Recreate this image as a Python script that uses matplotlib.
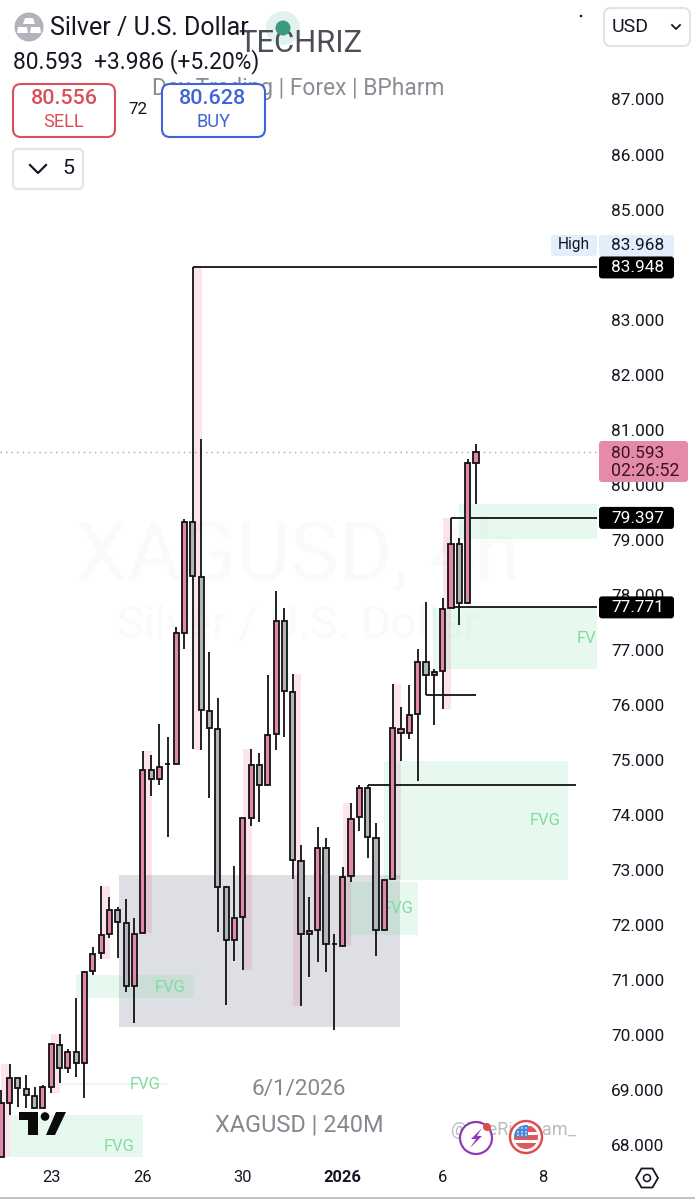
import matplotlib
matplotlib.use("Agg")
import matplotlib.pyplot as plt
from matplotlib.patches import Rectangle, FancyBboxPatch, Circle, Polygon

plt.rcParams['font.family'] = ['Roboto', 'DejaVu Sans']

opens  = [67.783,68.764,69.219,69.019,68.891,68.673,69.055,69.818,69.400,69.691,
          69.491,71.163,71.490,71.835,72.271,72.035,70.890,71.854,74.816,74.652,
          74.920,74.925,77.305,79.322,78.323,75.888,75.561,72.689,71.726,72.144,
          73.943,74.906,74.543,75.470,77.523,76.233,73.162,71.835,71.908,73.398,
          71.654,71.617,72.889,73.961,74.488,73.580,71.908,72.835,75.488,75.488,
          75.833,76.778,76.542,76.615,77.759,78.922,77.850,80.394]
highs  = [69.001,69.473,69.219,69.273,69.055,69.091,69.836,70.018,69.746,70.672,
          71.163,71.599,72.708,72.508,72.326,72.471,72.126,75.161,75.088,75.651,
          75.415,77.414,79.377,83.948,80.830,76.960,76.124,72.708,73.071,73.943,
          75.197,75.124,76.542,78.068,77.759,76.560,73.453,72.508,73.780,73.580,
          71.835,73.053,74.216,74.543,74.543,73.852,72.817,76.378,75.960,76.360,
          77.014,77.868,76.651,77.941,79.395,79.031,80.467,80.740]
lows   = [67.783,68.546,68.692,68.673,68.673,68.673,68.946,69.128,69.309,69.237,
          68.855,71.090,71.381,71.763,71.399,70.781,70.218,71.854,74.343,74.543,
          73.598,74.925,77.014,75.197,75.179,74.307,71.872,70.545,71.345,71.181,
          73.798,73.871,74.543,75.179,75.415,72.835,70.527,71.054,71.327,71.145,
          70.091,71.617,72.780,73.707,73.216,71.436,71.908,72.835,74.979,75.379,
          74.616,76.178,75.633,75.924,77.759,77.450,77.832,79.649]
closes = [68.764,69.219,69.037,68.910,68.673,69.055,69.836,69.400,69.691,69.491,
          71.145,71.472,71.817,72.271,72.053,70.890,71.835,74.816,74.652,74.870,
          74.925,77.305,79.322,78.341,75.906,75.579,72.689,71.726,72.126,73.943,
          74.906,74.543,75.452,77.523,76.251,73.180,71.835,71.890,73.398,71.654,
          71.660,72.871,73.925,74.488,73.598,71.908,72.817,75.579,75.561,75.815,
          76.778,76.542,76.596,77.741,78.922,77.850,80.394,80.593]

price_ticks = [68,69,70,71,72,73,74,75,76,77,78,79,80,81,82,83,84,85,86,87]
date_ticks = [6,17,29,41,53,65]
date_labels = ['23','26','30','2026','6','8']

# session highlights: start candle, high, low
session_idx = [0,6,12,17,23,29,35,41,47,53]
session_hi = [69.473,70.018,72.708,75.161,83.948,75.197,76.560,74.216,76.378,79.395]
session_lo = [67.783,68.946,71.381,71.854,75.179,71.181,70.527,71.617,72.835,75.924]

# fair value gaps: start, end, top, bottom
fvg_start = [1.06,7.3,9.0,41.6,46.0,51.8,55.0]
fvg_end = [17.02,20.0,23.15,50.0,68.04,71.5,71.5]
fvg_top = [68.546,69.128,71.090,72.780,74.979,77.759,79.649]
fvg_bot = [67.783,69.091,70.672,71.817,72.817,76.651,79.013]
fvg_text_x = [14.14,17.26,20.26,47.63,65.28,71.4]
fvg_text_y = [67.965,69.109,70.872,72.290,73.907,77.214]
fvg_text = ['FVG','FVG','FVG','FVG','FVG','FV']

# order block: start, end, top, bottom
block = (14.14,47.87,72.908,70.145)

# level lines: start candle, end, price
level_start = [23,54,54,44,51]
level_end = [71.5,71.5,71.5,69.0,57]
level_price = [83.948,79.397,77.771,74.54,76.18]
last_price = 80.593
tags = [83.948,79.397,77.771]

W, H = 695, 1199
fig = plt.figure(figsize=(W/100,H/100), dpi=100, facecolor='white')
FS = lambda p: p*0.72
LW = lambda p: p*0.72

back = fig.add_axes([0,0,1,1], zorder=0); back.set_xlim(0,W); back.set_ylim(H,0); back.axis('off')
ax = fig.add_axes([0,0,1,1], zorder=1); ax.patch.set_alpha(0)
top = fig.add_axes([0,0,1,1], zorder=5); top.set_xlim(0,W); top.set_ylim(H,0); top.axis('off')

ax.set_xlim(-0.144,83.289); ax.set_ylim(67.020,88.808)
for s in ax.spines.values(): s.set_visible(False)
ax.yaxis.tick_right()
ax.set_yticks(price_ticks); ax.set_yticklabels([f'{p:.3f}' for p in price_ticks])
ax.tick_params(axis='y', length=0, pad=-84*0.72, labelsize=FS(17.3), labelcolor='#131722')
ax.set_xticks(date_ticks); ax.set_xticklabels(date_labels)
ax.tick_params(axis='x', length=0, pad=-29*0.72, labelsize=FS(16.5), labelcolor='#131722')
for l in ax.get_xticklabels():
    if l.get_text()=='2026': l.set_fontweight('bold')

# background watermarks
back.text(298,558,'XAGUSD, 4h',fontsize=FS(82),color='#fafafb',ha='center',va='center')
back.text(298,625,'Silver / U.S. Dollar',fontsize=FS(45.5),color='#fafafb',ha='center',va='center')
back.text(299,1089,'6/1/2026',fontsize=FS(22.5),color='#85888f',ha='center',va='center')
back.text(299,1125,'XAGUSD | 240M',fontsize=FS(23.5),color='#85888f',ha='center',va='center')
back.text(513,1130,'@TheRizTeam_',fontsize=FS(18),color='#b9bbbf',ha='center',va='center')

ax.add_patch(Rectangle((block[0],block[3]),block[1]-block[0],block[2]-block[3],fc='#787b90',alpha=0.24,lw=0,zorder=1))
for s,e,t,b in zip(fvg_start,fvg_end,fvg_top,fvg_bot):
    ax.add_patch(Rectangle((s,b),e-s,t-b,fc='#55d88a',alpha=0.14,lw=0,zorder=1.2))
for i,hi,lo in zip(session_idx,session_hi,session_lo):
    ax.add_patch(Rectangle((i,lo),1.05,hi-lo,fc='#e91e63',alpha=0.12,lw=0,zorder=1.1))
for x,y,t in zip(fvg_text_x,fvg_text_y,fvg_text):
    ax.text(x,y,t,fontsize=FS(16.5),color='#7fdca0',ha='right' if t=='FV' else 'center',va='center',zorder=1.5)

ax.axhline(last_price,xmin=0,xmax=597/695,color='#d58fa8',lw=1.0,ls=(0,(1,3)),zorder=1.6)
for s,e,p in zip(level_start,level_end,level_price):
    ax.plot([s,e],[p,p],color='#111111',lw=LW(1.8),zorder=3,solid_capstyle='butt')

BW = 0.62
for i,(o,h,l,c) in enumerate(zip(opens,highs,lows,closes)):
    up = c>=o
    ax.plot([i,i],[l,h],color='#111111',lw=LW(1.8),zorder=4,solid_capstyle='butt')
    ax.add_patch(Rectangle((i-BW/2,min(o,c)),BW,max(abs(c-o),1e-3),fc='#e288a8' if up else '#b3b5bc',
                           ec='#111111',lw=LW(1.8),zorder=5))

# header
top.text(152,88,'Day Trading | Forex | BPharm',fontsize=FS(22.8),color='#8b8d94',ha='left',va='center',zorder=1)
top.add_patch(Circle((29,27),14.5,fc='#b3b3bd',lw=0))
top.add_patch(Polygon([(25,18),(33,18),(35,24),(23,24)],fc='white',lw=0))
top.add_patch(Polygon([(18,27),(27,27),(28,33),(17,33)],fc='white',lw=0))
top.add_patch(Polygon([(31,27),(40,27),(41,33),(30,33)],fc='white',lw=0))
top.text(50,28,'Silver / U.S. Dollar',fontsize=FS(25),color='#131722',ha='left',va='center')
top.add_patch(Circle((283,28),17,fc='#dff1ec',lw=0,alpha=0.9,zorder=1))
top.text(300,44,'TECHRIZ',fontsize=FS(31),color='#4b4e59',ha='center',va='center',zorder=1.2)
top.add_patch(Circle((283,28),7.5,fc='#3d9a80',lw=0,zorder=1.5))
top.text(13,62,'80.593  +3.986 (+5.20%)',fontsize=FS(22.7),color='#131722',ha='left',va='center')
def box(x0,y0,x1,y1,fc='white',ec='none',lw=1.5,r=8,z=2):
    top.add_patch(FancyBboxPatch((x0+r,y0+r),x1-x0-2*r,y1-y0-2*r,boxstyle=f'round,pad={r},rounding_size={r}',
                                 fc=fc,ec=ec,lw=lw,zorder=z))
box(13,84,115,137,ec='#d9505a')
box(162,84,265,137,ec='#3f63d8')
top.text(64,99,'80.556',fontsize=FS(21.5),color='#d9505a',ha='center',va='center',fontweight='medium',zorder=3)
top.text(64,122,'SELL',fontsize=FS(18.3),color='#d9505a',ha='center',va='center',zorder=3)
top.text(213,99,'80.628',fontsize=FS(21.5),color='#3f63d8',ha='center',va='center',fontweight='medium',zorder=3)
top.text(213,122,'BUY',fontsize=FS(18.3),color='#3f63d8',ha='center',va='center',zorder=3)
top.text(138,110,'72',fontsize=FS(17),color='#131722',ha='center',va='center',zorder=3)
box(13,149,83,189,ec='#e0e3eb',r=5)
top.plot([30,38,46],[165,173,165],color='#131722',lw=LW(2.2),zorder=3)
top.text(68,169,'5',fontsize=FS(21.5),color='#131722',ha='center',va='center',zorder=3)
box(604,8,690,46,ec='#e0e3eb',r=7)
top.text(630,27,'USD',fontsize=FS(19.5),color='#131722',ha='center',va='center',zorder=3)
top.plot([672,676,680],[25,29,25],color='#131722',lw=LW(1.8),zorder=3)
top.add_patch(Circle((581,16),1.3,fc='#131722',lw=0))

# price tags
def py(p):
    return H-ax.transData.transform((0,p))[1]
box(551,235,597,256,fc='#e3eefb',r=3)
top.text(574,245,'High',fontsize=FS(15.5),color='#131722',ha='center',va='center',zorder=3)
box(599,235,674,256,fc='#e3eefb',r=2)
top.text(638,245.5,'83.968',fontsize=FS(17.3),color='#131722',ha='center',va='center',zorder=3)
for p in tags:
    y=py(p)
    box(599,y-11,674,y+11,fc='#000000',r=3)
    top.text(638,y+0.5,f'{p:.3f}',fontsize=FS(17.3),color='white',ha='center',va='center',zorder=3)
box(599,441,688,482,fc='#e68aa9',r=3)
top.text(611,453,f'{last_price:.3f}',fontsize=FS(17.3),color='#3a1420',ha='left',va='center',zorder=3)
top.text(611,471,'02:26:52',fontsize=FS(17.8),color='#3a1420',ha='left',va='center',zorder=3)

# TradingView logo
top.add_patch(Polygon([(18.5,1112),(38,1112),(38,1135),(28.3,1135),(28.3,1120),(18.5,1120)],fc='#0b0b0b',lw=0,zorder=6))
top.add_patch(Circle((45,1116.5),4.3,fc='#0b0b0b',lw=0,zorder=6))
top.add_patch(Polygon([(56,1112),(66,1112),(55,1135),(46,1135)],fc='#0b0b0b',lw=0,zorder=6))

# bolt icon
top.add_patch(Circle((476,1138),16,fc='white',ec='#8e3ab8',lw=LW(2.2),zorder=6))
top.add_patch(Polygon([(482,1128),(471,1139),(476,1139),(470,1148),(482,1136),(477,1136)],fc='#8e3ab8',lw=0,zorder=7))
top.add_patch(Circle((487,1127),4,fc='#e24a4a',lw=0,zorder=8))
# flag icon
ring = Circle((526,1137),16,fc='white',ec='#e24a4a',lw=LW(2.4),zorder=6); top.add_patch(ring)
clip = Circle((526,1137),12,transform=top.transData)
for y0,h in [(1126,6),(1135,5),(1143,6)]:
    r_=Rectangle((513,y0),26,h,fc='#e0585a',lw=0,zorder=7); top.add_patch(r_); r_.set_clip_path(clip)
r_=Rectangle((513,1125),15,12,fc='#4a86dc',lw=0,zorder=8); top.add_patch(r_); r_.set_clip_path(clip)
for dx in (518,522,526):
    for dy in (1128,1132,1135):
        top.add_patch(Circle((dx,dy),0.8,fc='white',lw=0,zorder=9))

# hexagon settings icon
top.add_patch(Polygon([(636,1178),(641.5,1168.5),(652.5,1168.5),(658,1178),(652.5,1187.5),(641.5,1187.5)],
                      fc='white',ec='#131722',lw=LW(1.8),zorder=6))
top.add_patch(Circle((647,1178),3.5,fc='white',ec='#131722',lw=LW(1.6),zorder=7))
top.plot([0,W],[1197.5,1197.5],color='#b0b0b0',lw=LW(1.5))

fig.savefig('out.png',dpi=100)
